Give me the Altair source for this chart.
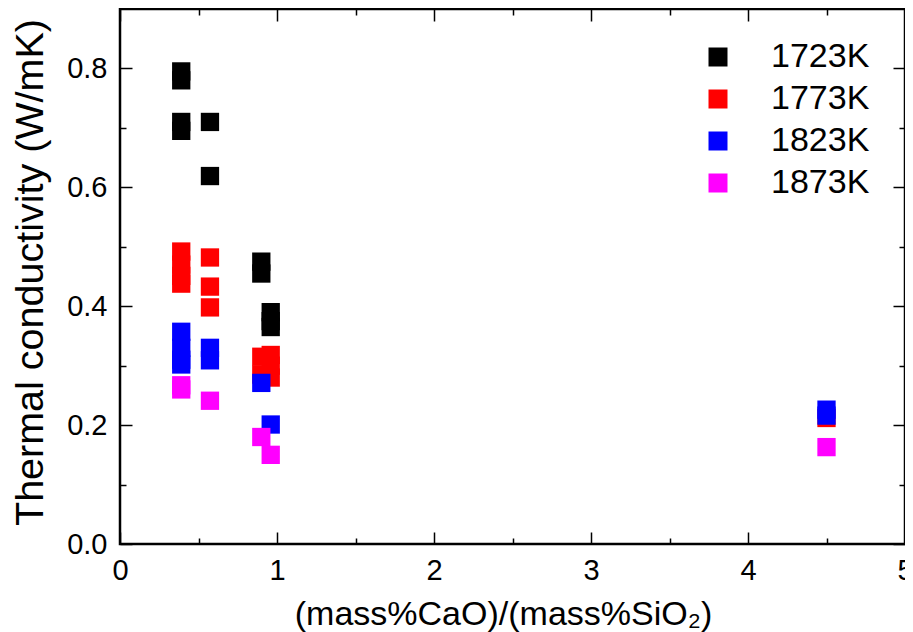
import altair as alt
import pandas as pd

# ---- data ----
series = ["1723K", "1773K", "1823K", "1873K"]
colors = ["#000000", "#ff0000", "#0000ff", "#ff00ff"]

x_1723 = [0.39, 0.39, 0.39, 0.39, 0.573, 0.573, 0.90, 0.90, 0.96, 0.96, 0.96]
y_1723 = [0.795, 0.78, 0.71, 0.695, 0.71, 0.619, 0.475, 0.455, 0.39, 0.375, 0.365]

x_1773 = [0.39, 0.39, 0.39, 0.39, 0.573, 0.573, 0.573, 0.90, 0.90, 0.96, 0.96, 0.96, 4.5]
y_1773 = [0.492, 0.47, 0.451, 0.438, 0.482, 0.433, 0.398, 0.315, 0.285, 0.318, 0.30, 0.28, 0.212]

x_1823 = [0.39, 0.39, 0.39, 0.39, 0.573, 0.573, 0.90, 0.96, 4.5, 4.5]
y_1823 = [0.357, 0.33, 0.31, 0.302, 0.33, 0.309, 0.271, 0.201, 0.226, 0.216]

x_1873 = [0.39, 0.39, 0.573, 0.90, 0.96, 4.5]
y_1873 = [0.267, 0.26, 0.241, 0.18, 0.15, 0.163]

x_major = [0, 1, 2, 3, 4, 5]
x_minor = [0.5, 1.5, 2.5, 3.5, 4.5]
y_major = [0.0, 0.2, 0.4, 0.6, 0.8]
y_minor = [0.1, 0.3, 0.5, 0.7]
x_range = [0, 5]
y_range = [0, 0.9]

xs = [x_1723, x_1773, x_1823, x_1873]
ys = [y_1723, y_1773, y_1823, y_1873]
rows = []
k = 0
for s, xv, yv in zip(series, xs, ys):
    for a, b in zip(xv, yv):
        rows.append({"ratio": a, "k": b, "temp": s, "idx": k})
        k += 1
df = pd.DataFrame(rows)
frame_df = pd.DataFrame({"x0": [x_range[0]], "x1": [x_range[1]],
                         "y0": [y_range[0]], "y1": [y_range[1]]})

W, H = 785, 535
FONT = "Liberation Sans"
xscale = alt.Scale(domain=x_range, nice=False, zero=False)
yscale = alt.Scale(domain=y_range, nice=False, zero=False)

base = alt.Chart(df)

points = base.mark_point(shape="square", filled=True, size=335, opacity=1).encode(
    x=alt.X("ratio:Q", scale=xscale,
            title="(mass%CaO)/(mass%SiO₂)",
            axis=alt.Axis(orient="bottom", values=x_major, format="d", ticks=False,
                          tickSize=0, domain=False,
                          grid=False, labelFontSize=29, labelFlush=False,
                          labelPadding=12, labelColor="black", labelFont=FONT,
                          titleFontSize=34, titleFontWeight="normal", titleFont=FONT,
                          titleColor="black", titleX=383, titleY=80,
                          titleBaseline="alphabetic")),
    y=alt.Y("k:Q", scale=yscale,
            title="Thermal conductivity (W/mK)",
            axis=alt.Axis(orient="left", values=y_major, format=".1f", ticks=False,
                          tickSize=0, domain=False,
                          grid=False, labelFontSize=29, labelFlush=False,
                          labelPadding=13, labelColor="black", labelFont=FONT,
                          titleFontSize=39.5, titleFontWeight="normal", titleFont=FONT,
                          titleColor="black", titleX=-78, titleY=263,
                          titleBaseline="alphabetic")),
    color=alt.Color("temp:N", scale=alt.Scale(domain=series, range=colors), title=None,
                    legend=alt.Legend(orient="none", legendX=581, legendY=31,
                                      symbolType="square", symbolSize=361,
                                      symbolStrokeWidth=0, labelFontSize=34,
                                      labelFont=FONT, labelColor="black",
                                      rowPadding=8, labelOffset=36, padding=0)),
    order=alt.Order("idx:Q"),
)


def tick_layer(xorient, yorient, xvals, yvals, size):
    return base.mark_point(opacity=0).encode(
        x=alt.X("ratio:Q", scale=xscale, title=None,
                axis=alt.Axis(orient=xorient, values=xvals, offset=-size, tickSize=size,
                              labels=False, domain=False, grid=False, ticks=True,
                              tickColor="black", tickWidth=1.5)),
        y=alt.Y("k:Q", scale=yscale, title=None,
                axis=alt.Axis(orient=yorient, values=yvals, offset=-size, tickSize=size,
                              labels=False, domain=False, grid=False, ticks=True,
                              tickColor="black", tickWidth=1.5)),
    )


# plot frame drawn from the axis ranges through the scales
frame = alt.Chart(frame_df).mark_rect(fill="white", fillOpacity=0, stroke="black",
                                      strokeWidth=2.5).encode(
    x=alt.X("x0:Q", scale=xscale, axis=None),
    x2="x1:Q",
    y=alt.Y("y0:Q", scale=yscale, axis=None),
    y2="y1:Q",
)

chart = alt.layer(
    frame,
    points,
    tick_layer("bottom", "left", x_major, y_major, 12),
    tick_layer("bottom", "left", x_minor, y_minor, 6),
    tick_layer("top", "right", x_major, y_major, 12),
    tick_layer("top", "right", x_minor, y_minor, 6),
).resolve_axis(x="independent", y="independent").properties(
    width=W, height=H,
    background="white",
    autosize=alt.AutoSizeParams(type="none"),
    padding={"left": 112, "top": 1, "right": 0, "bottom": 88},
).configure_view(stroke=None)

chart.save("out.html", embed_options={"renderer": "svg", "actions": False})
